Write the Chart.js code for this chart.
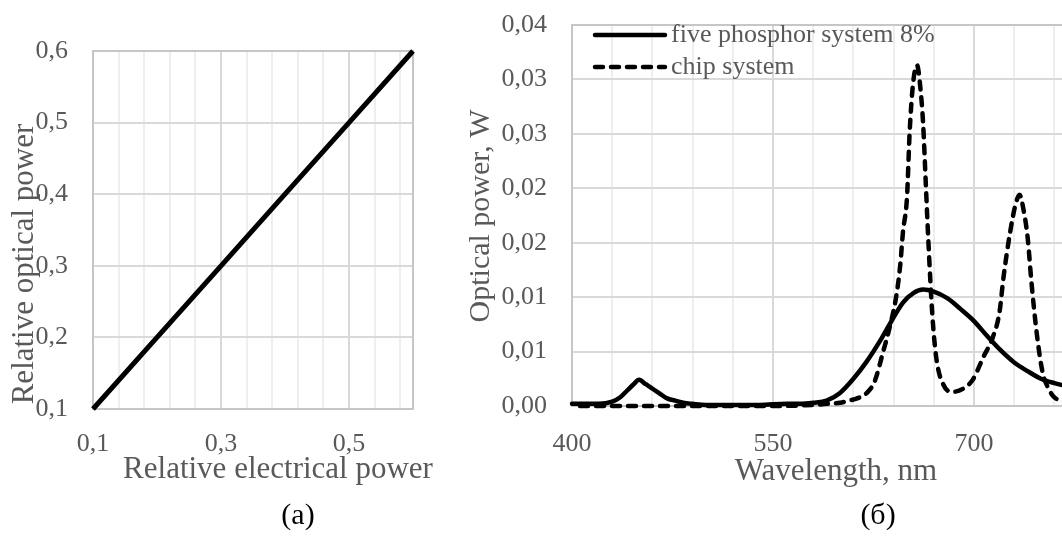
<!DOCTYPE html>
<html lang="en">
<head>
<meta charset="UTF-8" />
<title>Optical power vs electrical power and spectra</title>
<script src="https://cdn.jsdelivr.net/npm/chart.js@4/dist/chart.umd.min.js"></script>
<style>
  html, body { margin: 0; padding: 0; background: #fff; overflow: hidden; width: 1062px; height: 548px; }
  #chartA { position: absolute; left: 0; top: 0; }
  #chartB { position: absolute; left: 460px; top: 0; }
</style>
</head>
<body>
<canvas id="chartA" width="460" height="548"></canvas>
<canvas id="chartB" width="760" height="548"></canvas>
<script>
// (a) relative optical vs relative electrical power
const elecPower  = [0.1, 0.2, 0.3, 0.4, 0.5, 0.6];
const opticalRel = [0.1, 0.2, 0.3, 0.4, 0.5, 0.6];
const xLabelsA = ['0,1', '0,3', '0,5'];
const yLabelsA = ['0,1', '0,2', '0,3', '0,4', '0,5', '0,6'];

// (б) spectra
const wlPhosphor = [400, 410, 420, 430, 436, 441, 446, 450, 455, 460, 466, 471, 477, 483, 490, 500, 520, 540,
  560, 570, 580, 590, 600, 610, 620, 630, 637, 647, 655, 662, 670, 680, 690, 700, 710, 720, 730, 740, 750, 760, 770];
const pwPhosphor = [0.0002, 0.0002, 0.0002, 0.0004, 0.0008, 0.0014, 0.0020, 0.0024, 0.0020, 0.0016, 0.0011, 0.0007,
  0.0005, 0.0003, 0.0002, 0.0001, 0.0001, 0.0001, 0.0002, 0.0002, 0.0003, 0.0005, 0.0012, 0.0025, 0.0041, 0.0060,
  0.0075, 0.0095, 0.0104, 0.0107, 0.0105, 0.0099, 0.0089, 0.0078, 0.0064, 0.0051, 0.0040, 0.0032, 0.0025, 0.0021, 0.0018];

const wlChip = [400, 450, 500, 550, 580, 590, 600, 610, 615, 620, 626, 632, 637, 642, 645, 647, 650, 652, 654.5,
  657.5, 660, 662, 664, 666, 669, 672, 677, 684, 692, 699, 707, 714, 719, 722, 727, 731, 734, 737, 740, 743, 747,
  751, 756, 760, 765, 770];
const pwChip = [0, 0, 0, 0, 0.0001, 0.0002, 0.0003, 0.0006, 0.0008, 0.0012, 0.0023, 0.0049, 0.0072, 0.0101, 0.0130,
  0.0160, 0.0192, 0.0252, 0.0296, 0.0313, 0.0292, 0.0260, 0.0205, 0.0150, 0.0082, 0.0043, 0.0020, 0.0013, 0.0016,
  0.0024, 0.0045, 0.0063, 0.0086, 0.0118, 0.0160, 0.0185, 0.0194, 0.0180, 0.0155, 0.0112, 0.0065, 0.0032, 0.0015,
  0.0008, 0.0005, 0.0004];

const xLabelsB = ['400', '550', '700', '850'];
const yLabelsB = ['0,00', '0,01', '0,01', '0,02', '0,02', '0,03', '0,03', '0,04'];

Chart.defaults.font.family = "'Liberation Serif', 'Times New Roman', serif";
Chart.defaults.color = '#595959';
Chart.defaults.animation = false;

const MAJOR = '#d9d9d9', MINOR = '#eeeeee';

// plot frame like the office chart
const frame = {
  id: 'frame',
  beforeDatasetsDraw(chart) {
    const { ctx, chartArea: a } = chart;
    ctx.save();
    ctx.strokeStyle = '#c6c6c6';
    ctx.lineWidth = 2;
    ctx.strokeRect(a.left, a.top, a.right - a.left, a.bottom - a.top);
    ctx.restore();
  }
};

// axis titles and captions placed freely
const texts = {
  id: 'texts',
  afterDraw(chart, args, opts) {
    const ctx = chart.ctx;
    (opts.items || []).forEach(t => {
      ctx.save();
      ctx.font = t.size + "px 'Liberation Serif', serif";
      ctx.fillStyle = t.color || '#595959';
      ctx.textAlign = 'center';
      ctx.textBaseline = 'middle';
      ctx.translate(t.x, t.y);
      if (t.rotate) ctx.rotate(-Math.PI / 2);
      ctx.fillText(t.text, 0, 0);
      ctx.restore();
    });
  }
};

// legend inside the plot area with line samples
const lineLegend = {
  id: 'lineLegend',
  afterDatasetsDraw(chart, args, opts) {
    if (!opts.x) return;
    const ctx = chart.ctx;
    chart.data.datasets.forEach((ds, i) => {
      const y = opts.y + i * opts.rowGap;
      ctx.save();
      ctx.strokeStyle = ds.borderColor;
      ctx.lineWidth = ds.borderWidth;
      ctx.lineCap = ds.borderCapStyle || 'butt';
      ctx.setLineDash(ds.borderDash || []);
      ctx.beginPath();
      ctx.moveTo(opts.x, y);
      ctx.lineTo(opts.x + opts.len, y);
      ctx.stroke();
      ctx.setLineDash([]);
      ctx.fillStyle = '#595959';
      ctx.font = opts.size + "px 'Liberation Serif', serif";
      ctx.textBaseline = 'middle';
      ctx.fillText(ds.label, opts.x + opts.len + opts.gap, y);
      ctx.restore();
    });
  }
};

// invisible tick marks give the label gap without adding top/bottom layout padding
function gridOpts(color, gap) {
  return { drawTicks: true, tickLength: gap, tickColor: 'rgba(0,0,0,0)', lineWidth: 2, color: color };
}

new Chart(document.getElementById('chartA'), {
  type: 'line',
  data: {
    datasets: [{
      label: 'relative',
      data: elecPower.map((x, i) => ({ x: x, y: opticalRel[i] })),
      borderColor: '#000',
      borderWidth: 5,
      pointRadius: 0,
      clip: false
    }]
  },
  options: {
    responsive: false,
    layout: { padding: { top: 51, right: 47, left: 0, bottom: 0 } },
    plugins: {
      legend: { display: false },
      tooltip: { enabled: false },
      texts: {
        items: [
          { text: 'Relative electrical power', x: 278, y: 470, size: 31 },
          { text: 'Relative optical power', x: 25, y: 264, size: 31, rotate: true },
          { text: '(a)', x: 298, y: 516, size: 30, color: '#000' }
        ]
      }
    },
    scales: {
      x: {
        type: 'linear', min: 0.1, max: 0.6,
        afterBuildTicks: s => {
          s.ticks = [];
          for (let k = 0; k <= 12; k++) s.ticks.push({ value: 0.1 + 0.04 * k });
          s.ticks.push({ value: 0.6 });
        },
        afterFit: s => { s.height = 139; },
        grid: gridOpts(c => c.index % 5 === 0 ? MAJOR : MINOR, 20),
        border: { display: false },
        ticks: {
          autoSkip: false, maxRotation: 0, padding: 0, font: { size: 26 },
          callback: (v, i) => i % 5 === 0 ? (xLabelsA[i / 5] || '') : ''
        }
      },
      y: {
        min: 0.1, max: 0.6,
        afterFit: s => { s.width = 93; },
        grid: gridOpts(MAJOR, 25),
        border: { display: false },
        ticks: { stepSize: 0.1, padding: 0, font: { size: 26 }, callback: (v, i) => yLabelsA[i] }
      }
    }
  },
  plugins: [frame, texts]
});

new Chart(document.getElementById('chartB'), {
  type: 'line',
  data: {
    datasets: [{
      label: 'five phosphor system 8%',
      data: wlPhosphor.map((x, i) => ({ x: x, y: pwPhosphor[i] })),
      borderColor: '#000',
      borderWidth: 4.5,
      borderCapStyle: 'round',
      pointRadius: 0,
      cubicInterpolationMode: 'monotone',
      clip: false
    }, {
      label: 'chip system',
      data: wlChip.map((x, i) => ({ x: x, y: pwChip[i] })),
      borderColor: '#000',
      borderWidth: 4.5,
      borderDash: [8, 8],
      borderDashOffset: 8,
      borderCapStyle: 'round',
      pointRadius: 0,
      cubicInterpolationMode: 'monotone',
      clip: false
    }]
  },
  options: {
    responsive: false,
    layout: { padding: { top: 25, right: 45, left: 0, bottom: 0 } },
    plugins: {
      legend: { display: false },
      tooltip: { enabled: false },
      lineLegend: { x: 135, y: 35, len: 70, gap: 6, rowGap: 32, size: 26 },
      texts: {
        items: [
          { text: 'Wavelength, nm', x: 376, y: 472, size: 31 },
          { text: 'Optical power, W', x: 21, y: 216, size: 30, rotate: true },
          { text: '(б)', x: 418, y: 516, size: 30, color: '#000' }
        ]
      }
    },
    scales: {
      x: {
        type: 'linear', min: 400, max: 850,
        afterBuildTicks: s => {
          s.ticks = [];
          for (let v = 400; v <= 850; v += 30) s.ticks.push({ value: v });
        },
        afterFit: s => { s.height = 142; },
        grid: gridOpts(c => c.index % 5 === 0 ? MAJOR : MINOR, 23),
        border: { display: false },
        ticks: {
          autoSkip: false, maxRotation: 0, padding: 0, font: { size: 26 },
          callback: (v, i) => i % 5 === 0 ? (xLabelsB[i / 5] || '') : ''
        }
      },
      y: {
        min: 0, max: 0.035,
        afterFit: s => { s.width = 112; },
        grid: gridOpts(MAJOR, 25),
        border: { display: false },
        ticks: { stepSize: 0.005, padding: 0, font: { size: 26 }, callback: (v, i) => yLabelsB[i] }
      }
    }
  },
  plugins: [frame, texts, lineLegend]
});
</script>
</body>
</html>
